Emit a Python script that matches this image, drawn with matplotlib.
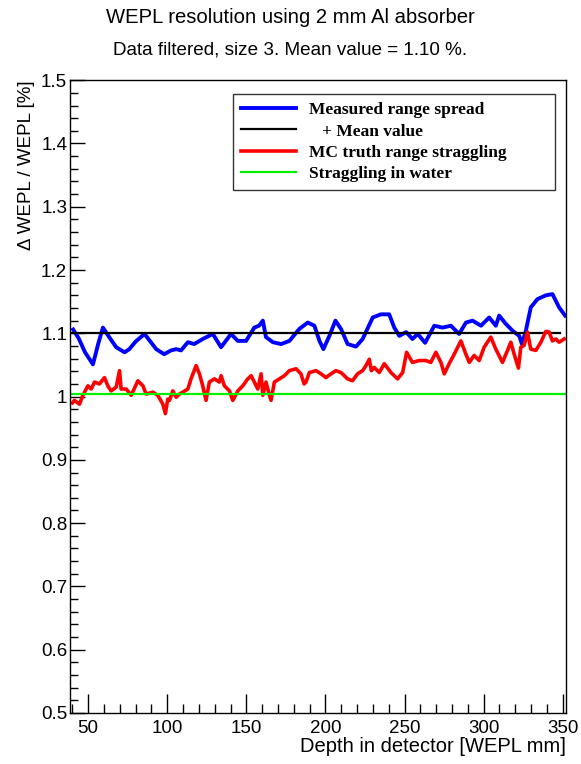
import matplotlib
matplotlib.use("Agg")
import matplotlib.pyplot as plt
import numpy as np
from matplotlib.ticker import MultipleLocator, FormatStrFormatter

# measured range spread (blue)
meas_depth = np.array([40.5, 44, 48, 53, 56.5, 59.3, 63, 67.7, 73, 76, 80, 85.6, 89, 93, 98,
                       102.4, 105.6, 108.7, 113, 117, 122.4, 128.8, 134, 140.3, 144.6, 149.8,
                       155, 158, 160.4, 162.4, 166.7, 172, 177.2, 183.5, 188.8, 193, 196.2,
                       198.7, 202.5, 206.3, 209.8, 214, 219.3, 223.5, 229.9, 235, 240.3,
                       243.5, 246.7, 251, 255, 258.3, 263, 268.8, 274, 279.3, 284.5, 288.8,
                       293, 298.3, 303.5, 307.7, 309.8, 314, 318.3, 322.5, 324.2, 326.7,
                       329.8, 334, 339.3, 343.5, 347.7, 351.5])
meas_spread = np.array([1.106, 1.092, 1.07, 1.051, 1.085, 1.109, 1.095, 1.078, 1.07, 1.075,
                        1.087, 1.099, 1.088, 1.075, 1.067, 1.073, 1.075, 1.073, 1.086, 1.083,
                        1.091, 1.099, 1.078, 1.099, 1.088, 1.088, 1.109, 1.112, 1.12, 1.094,
                        1.086, 1.083, 1.088, 1.107, 1.117, 1.112, 1.088, 1.075, 1.096, 1.12,
                        1.107, 1.083, 1.079, 1.091, 1.125, 1.13, 1.13, 1.109, 1.096, 1.102,
                        1.091, 1.099, 1.085, 1.112, 1.109, 1.112, 1.099, 1.117, 1.12, 1.112,
                        1.125, 1.112, 1.128, 1.115, 1.104, 1.096, 1.083, 1.104, 1.141, 1.154,
                        1.16, 1.162, 1.141, 1.128])

# MC truth range straggling (red)
mc_depth = np.array([40, 41.3, 44.5, 46.6, 49.8, 51.9, 54, 57.1, 60.3, 62.4, 64.5, 67.7, 69.8,
                     70.8, 74, 77.2, 81.4, 84.6, 86.6, 90.9, 94, 97.2, 98.8, 100.3, 101.4,
                     103.5, 105.6, 107.7, 109.8, 113, 115, 118.2, 120.3, 122.4, 124.5, 126.6,
                     129.8, 132.9, 134, 136.1, 139.3, 141.4, 144.6, 147.7, 150.9, 153, 155,
                     157.2, 159.3, 160.4, 162.4, 164.6, 165.6, 167.7, 170.9, 174, 177.2,
                     181.4, 184.5, 186.5, 187.7, 189.8, 194, 197.2, 200.3, 203.5, 206.6,
                     209.8, 214, 217.1, 220.3, 223.5, 225.6, 227.7, 229, 230.9, 234, 237.2,
                     241.4, 245.6, 248.8, 251.3, 255, 259.3, 263.5, 266.6, 269.8, 273,
                     275.1, 278.2, 281.4, 285.6, 288.8, 290.9, 294, 297.2, 300.3, 304.5,
                     307.7, 311.9, 315.1, 317.2, 319.3, 322, 323.5, 325.6, 327.7, 329.8,
                     333, 336.2, 339.3, 341.4, 343.5, 345.6, 347.7, 350.9])
mc_straggling = np.array([0.99, 0.994, 0.988, 1.002, 1.017, 1.012, 1.023, 1.02, 1.03, 1.017,
                          1.009, 1.015, 1.041, 1.012, 1.012, 1.002, 1.025, 1.017, 1.004,
                          1.007, 1.002, 0.988, 0.973, 0.996, 0.994, 1.009, 0.999, 1.004,
                          1.007, 1.012, 1.028, 1.049, 1.036, 1.017, 0.994, 1.023, 1.028,
                          1.023, 1.033, 1.017, 1.009, 0.994, 1.009, 1.017, 1.028, 1.033,
                          1.023, 1.012, 1.036, 1.002, 1.023, 1.002, 0.994, 1.023, 1.028,
                          1.033, 1.041, 1.044, 1.036, 1.02, 1.023, 1.038, 1.041, 1.036, 1.03,
                          1.036, 1.041, 1.038, 1.028, 1.025, 1.036, 1.041, 1.049, 1.059,
                          1.041, 1.046, 1.038, 1.052, 1.038, 1.028, 1.038, 1.07, 1.054,
                          1.057, 1.057, 1.054, 1.07, 1.054, 1.036, 1.052, 1.067, 1.088,
                          1.067, 1.054, 1.065, 1.057, 1.078, 1.094, 1.075, 1.054, 1.073,
                          1.086, 1.067, 1.045, 1.078, 1.081, 1.102, 1.075, 1.073, 1.086,
                          1.103, 1.102, 1.088, 1.091, 1.086, 1.091])

mean_value = 1.10
mean_range = [39, 348]
water_straggling = 1.004
water_range = [38.5, 352]

plt.rcParams['font.family'] = ['Liberation Sans', 'DejaVu Sans']

fig = plt.figure(figsize=(5.81, 7.64), dpi=100)
ax = fig.add_axes([0.1205, 0.0668, 0.8535, 0.8282])

ax.plot(meas_depth, meas_spread, color='#0000ff', lw=2.8, label='Measured range spread')
ax.plot(mean_range, [mean_value, mean_value], color='black', lw=1.6, label='   + Mean value')
ax.plot(mc_depth, mc_straggling, color='#ff0000', lw=2.6, label='MC truth range straggling')
ax.plot(water_range, [water_straggling, water_straggling], color='#00ee00', lw=1.6,
        label='Straggling in water')

ax.set_xlim(38.5, 352)
ax.set_ylim(0.5, 1.5)
ax.xaxis.set_major_locator(MultipleLocator(50))
ax.xaxis.set_minor_locator(MultipleLocator(10))
ax.yaxis.set_major_locator(MultipleLocator(0.1))
ax.yaxis.set_minor_locator(MultipleLocator(0.02))
ax.yaxis.set_major_formatter(FormatStrFormatter('%g'))
ax.tick_params(axis='both', which='both', direction='in', top=False, right=False,
               labelsize=13.5, colors='black')
ax.tick_params(axis='x', which='major', length=13.5, width=1, pad=5)
ax.tick_params(axis='x', which='minor', length=6.8, width=1)
ax.tick_params(axis='y', which='major', length=10.8, width=1, pad=2)
ax.tick_params(axis='y', which='minor', length=5.4, width=1)
for sp in ax.spines.values():
    sp.set_linewidth(1.0)

ax.set_xlabel('Depth in detector [WEPL mm]', fontsize=14.5, loc='right', labelpad=0)
ax.set_ylabel('Δ WEPL / WEPL [%]', fontsize=13.5, loc='top', labelpad=4)

fig.text(0.5, 0.977, 'WEPL resolution using 2 mm Al absorber', ha='center', va='center',
         fontsize=14.6)
fig.text(0.5, 0.934, 'Data filtered, size 3. Mean value = 1.10 %.', ha='center',
         va='center', fontsize=13.6)

leg = ax.legend(loc='upper left',
                bbox_to_anchor=(233 / 581, 1 - 95 / 764, 322 / 581, 0.001),
                bbox_transform=fig.transFigure, mode='expand', frameon=True, fancybox=False,
                prop={'family': 'Liberation Serif', 'weight': 'bold', 'size': 12.5},
                handlelength=3.2, handletextpad=0.7, labelspacing=0.3,
                borderpad=0.45, borderaxespad=0)
leg.get_frame().set_edgecolor('black')
leg.get_frame().set_linewidth(1.0)

fig.savefig('out.png', dpi=100)
